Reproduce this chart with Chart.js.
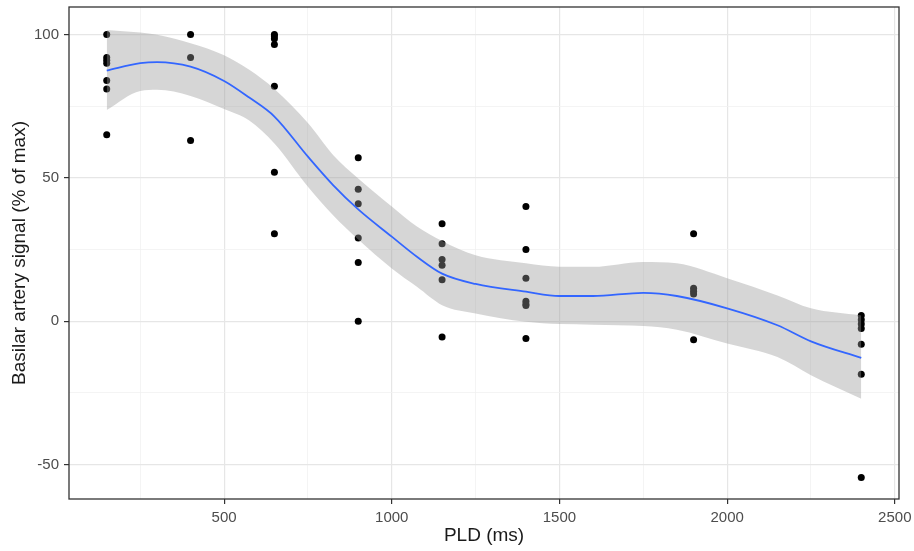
<!DOCTYPE html>
<html>
<head>
<meta charset="utf-8">
<script src="https://cdn.jsdelivr.net/npm/chart.js@4.4.1/dist/chart.umd.min.js"></script>
<style>
  html, body { margin: 0; padding: 0; background: #fff; }
  #wrap { width: 914px; height: 551px; position: relative; }
</style>
</head>
<body>
<div id="wrap"><canvas id="pldChart"></canvas></div>
<script>
// measured samples (PLD in ms, signal in % of max)
const pointPld = [
  150, 150, 150, 150, 150, 150, 150,
  400, 400, 400,
  650, 650, 650, 650, 650, 650, 650,
  900, 900, 900, 900, 900, 900,
  1150, 1150, 1150, 1150, 1150, 1150,
  1400, 1400, 1400, 1400, 1400, 1400, 1400,
  1900, 1900, 1900, 1900, 1900,
  2400, 2400, 2400, 2400, 2400, 2400, 2400
];
const pointSignal = [
  100, 92, 91, 90, 84, 81, 65,
  100, 92, 63,
  100, 99.5, 98.5, 96.5, 82, 52, 30.5,
  57, 46, 41, 29, 20.5, 0,
  34, 27, 21.5, 19.5, 14.5, -5.5,
  40, 25, 15, 7, 6, 5.5, -6,
  30.5, 11.5, 10.5, 9.5, -6.5,
  2, 0.5, -1, -2.5, -8, -18.5, -54.5
];

// loess fit and its confidence band
const fitPld = [150, 250, 300, 400, 500, 575, 650, 750, 825, 900, 1000, 1075, 1150, 1250, 1400, 1500, 1600, 1750, 1850, 2000, 2150, 2250, 2400];
const fitMean = [87.4, 90.0, 90.4, 88.8, 83.8, 78.0, 71.4, 57.4, 47.5, 39.0, 29.5, 22.5, 16.6, 13.0, 10.3, 8.8, 8.8, 9.9, 8.8, 4.5, -1.4, -7.0, -12.8];
const fitUpper = [101.6, 100.7, 99.9, 97.0, 92.8, 87.7, 81.0, 69.1, 58.0, 49.8, 40.0, 33.0, 28.0, 23.0, 20.2, 19.0, 19.0, 20.7, 20.2, 15.0, 9.0, 4.5, 2.0];
const fitLower = [73.7, 80.3, 80.7, 78.6, 74.0, 70.0, 62.0, 46.9, 37.0, 28.5, 18.4, 12.0, 5.6, 2.7, -0.2, -1.0, -1.2, -1.7, -3.0, -7.8, -12.5, -18.8, -27.0];

// axis ticks: majors get a label, minors only a grid line
const xTicks = [250, 500, 750, 1000, 1250, 1500, 1750, 2000, 2250, 2500];
const xMajor = [500, 1000, 1500, 2000, 2500];
const yTicks = [-50, -25, 0, 25, 50, 75, 100];
const yMajor = [-50, 0, 50, 100];

const toXY = (xs, ys) => xs.map((x, i) => ({ x: x, y: ys[i] }));

const panelBorder = {
  id: "panelBorder",
  afterDatasetsDraw(chart) {
    const { ctx, chartArea: a } = chart;
    ctx.save();
    ctx.strokeStyle = "#333333";
    ctx.lineWidth = 1.3;
    ctx.strokeRect(a.left, a.top, a.right - a.left, a.bottom - a.top);
    ctx.restore();
  },
};

function gridStyle(majors) {
  return {
    color: (c) => (c.tick && majors.includes(c.tick.value) ? "#e6e6e6" : "#f1f1f1"),
    lineWidth: (c) => (c.tick && majors.includes(c.tick.value) ? 1.2 : 0.8),
    tickColor: (c) => (c.tick && majors.includes(c.tick.value) ? "#333333" : "rgba(0,0,0,0)"),
    tickLength: 5,
    tickWidth: 1.2,
  };
}

const ctx = document.getElementById("pldChart").getContext("2d");

new Chart(ctx, {
  type: "scatter",
  data: {
    datasets: [
      {
        label: "fit",
        type: "line",
        data: toXY(fitPld, fitMean),
        borderColor: "#3366ff",
        borderWidth: 1.8,
        pointRadius: 0,
        fill: false,
        cubicInterpolationMode: "monotone",
        order: 1,
      },
      {
        label: "upper",
        type: "line",
        data: toXY(fitPld, fitUpper),
        borderWidth: 0,
        borderColor: "rgba(0,0,0,0)",
        backgroundColor: "rgba(153,153,153,0.4)",
        pointRadius: 0,
        fill: "+1",
        cubicInterpolationMode: "monotone",
        order: 2,
      },
      {
        label: "lower",
        type: "line",
        data: toXY(fitPld, fitLower),
        borderWidth: 0,
        borderColor: "rgba(0,0,0,0)",
        pointRadius: 0,
        fill: false,
        cubicInterpolationMode: "monotone",
        order: 2,
      },
      {
        label: "samples",
        data: toXY(pointPld, pointSignal),
        backgroundColor: "#000000",
        borderWidth: 0,
        pointRadius: 3.5,
        order: 3,
      },
    ],
  },
  options: {
    responsive: true,
    maintainAspectRatio: false,
    animation: false,
    layout: { padding: { left: 0, right: 15, top: 7, bottom: 0 } },
    plugins: {
      legend: { display: false },
      tooltip: { enabled: false },
    },
    scales: {
      x: {
        type: "linear",
        min: 37.5,
        max: 2512.5,
        afterBuildTicks: (scale) => {
          scale.ticks = xTicks.map((v) => ({ value: v }));
        },
        afterFit: (scale) => {
          // keep the 2500 label from pushing the plot edge inwards
          scale.height = 52;
          scale.paddingLeft = 0;
          scale.paddingRight = 0;
        },
        border: { display: false },
        grid: gridStyle(xMajor),
        ticks: {
          padding: 5,
          color: "#4d4d4d",
          font: { family: "Liberation Sans", size: 15 },
          callback: (v) => (xMajor.includes(v) ? String(v) : ""),
          maxRotation: 0,
        },
        title: {
          display: true,
          text: "PLD (ms)",
          color: "#1a1a1a",
          font: { family: "Liberation Sans", size: 19, lineHeight: 1 },
          padding: { top: 0, bottom: 6 },
        },
      },
      y: {
        type: "linear",
        min: -62,
        max: 109.6,
        afterBuildTicks: (scale) => {
          scale.ticks = yTicks.map((v) => ({ value: v }));
        },
        afterFit: (scale) => {
          scale.width = 69;
          scale.paddingTop = 0;
          scale.paddingBottom = 0;
        },
        border: { display: false },
        grid: gridStyle(yMajor),
        ticks: {
          padding: 5,
          color: "#4d4d4d",
          font: { family: "Liberation Sans", size: 15 },
          callback: (v) => (yMajor.includes(v) ? String(v) : ""),
        },
        title: {
          display: true,
          text: "Basilar artery signal (% of max)",
          color: "#1a1a1a",
          font: { family: "Liberation Sans", size: 19, lineHeight: 1.2 },
          padding: { top: 8, bottom: 0 },
        },
      },
    },
  },
  plugins: [panelBorder],
});
</script>
</body>
</html>
